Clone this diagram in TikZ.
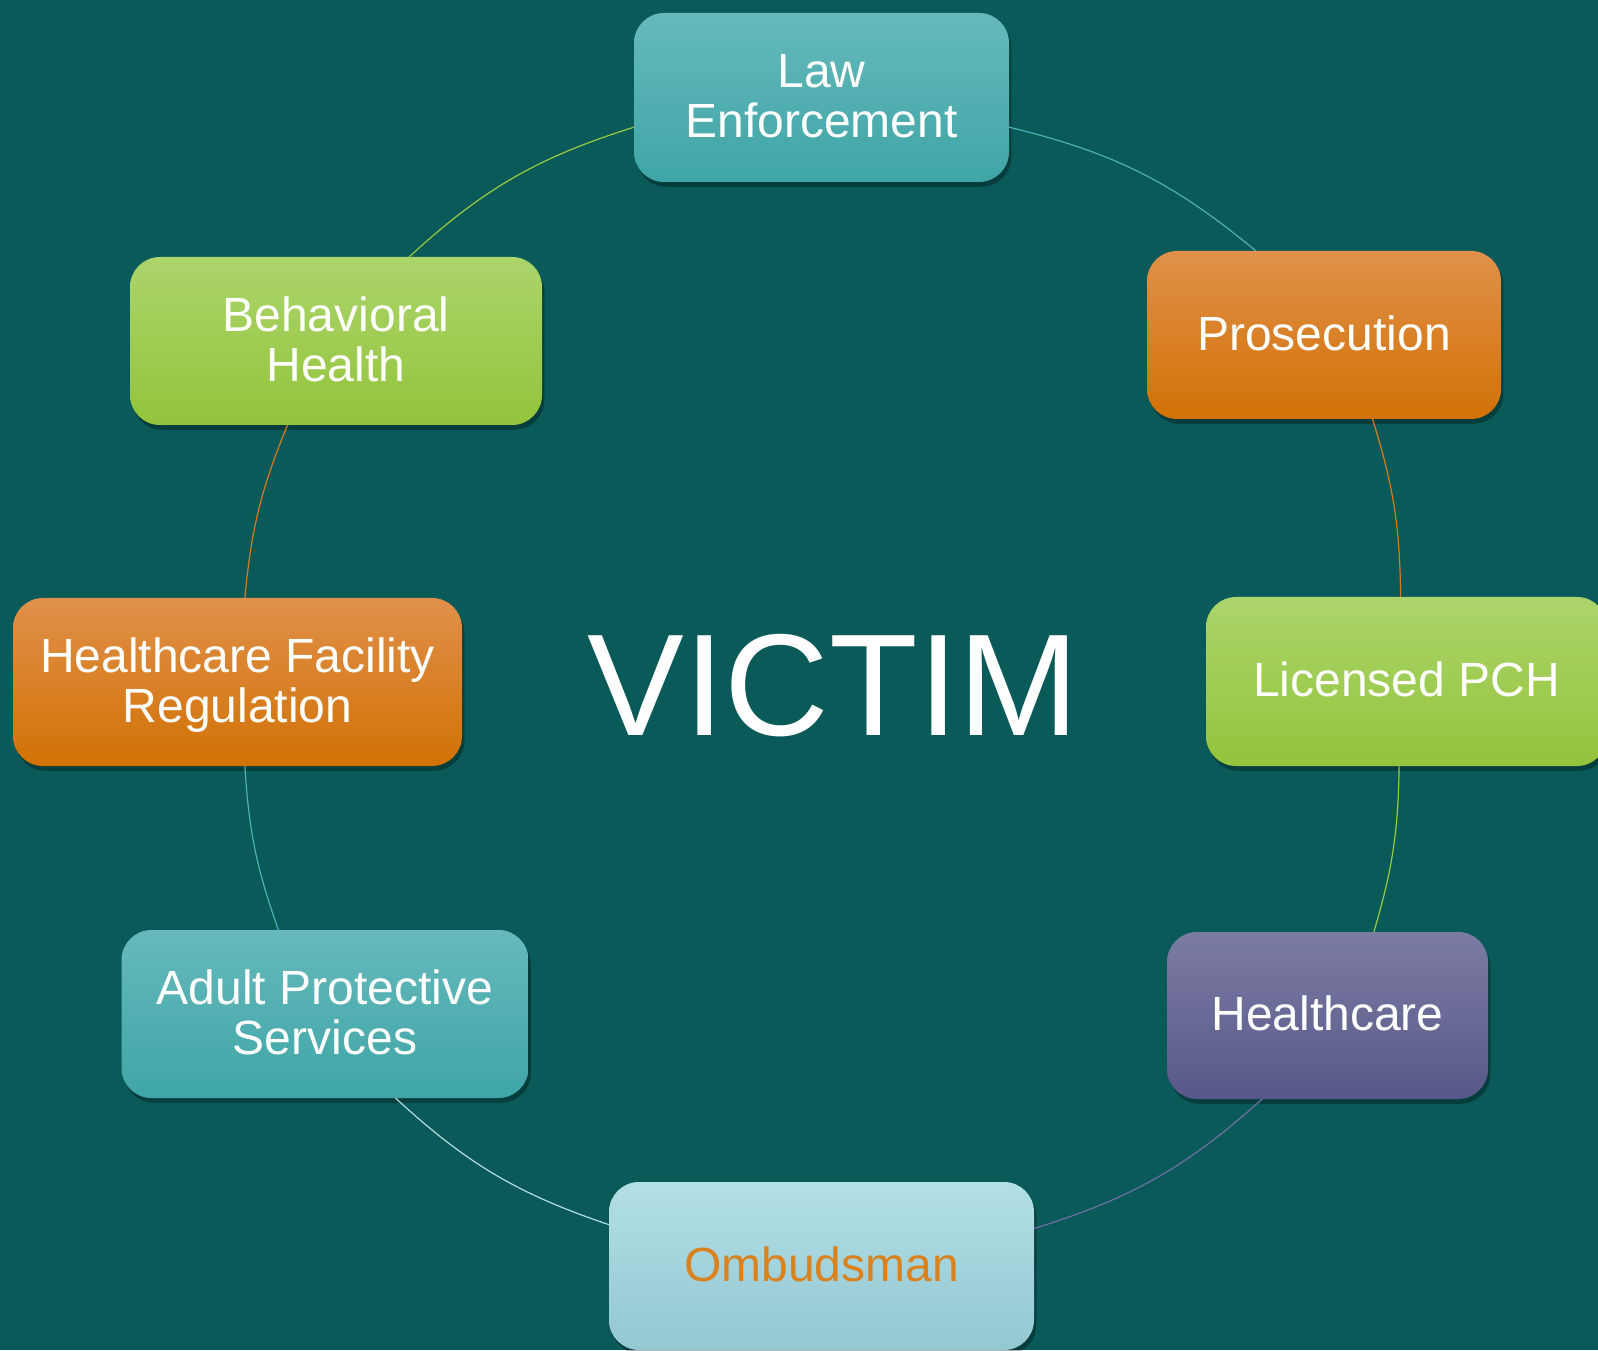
\documentclass[tikz,border=0pt]{standalone}
\usepackage{fontspec}
\setmainfont{Liberation Sans}
\usetikzlibrary{shadows}
\definecolor{bgc}{HTML}{0A5A5A}
\definecolor{tealT}{HTML}{66B9BB}\definecolor{tealB}{HTML}{3FA5A7}
\definecolor{oraT}{HTML}{E0904A}\definecolor{oraB}{HTML}{D27205}
\definecolor{grnT}{HTML}{ABD56B}\definecolor{grnB}{HTML}{93C43B}
\definecolor{purT}{HTML}{7B7CA4}\definecolor{purB}{HTML}{585888}
\definecolor{ltbT}{HTML}{B3DFE6}\definecolor{ltbB}{HTML}{93C7D2}
\definecolor{ombtxt}{HTML}{D9821E}
\definecolor{lnTeal}{HTML}{4DB0B3}
\definecolor{lnOra}{HTML}{D77A1A}
\definecolor{lnGrn}{HTML}{9BC93E}
\definecolor{lnPur}{HTML}{7070A0}
\definecolor{lnLtb}{HTML}{B0DDE4}
\tikzset{
  box/.style={rectangle, rounded corners=15pt, outer sep=0pt, inner sep=0pt,
    align=center, text=white, font=\fontsize{24}{25}\selectfont,
    text height=15.4pt, text depth=0pt,
    drop shadow={shadow xshift=1.2pt, shadow yshift=-2.4pt, opacity=0.3, fill=black}},
  two/.style={text height=40.4pt, text depth=0pt},
  tealbox/.style={box, top color=tealT, bottom color=tealB},
  orabox/.style={box, top color=oraT, bottom color=oraB},
  grnbox/.style={box, top color=grnT, bottom color=grnB},
  purbox/.style={box, top color=purT, bottom color=purB},
  ltbbox/.style={box, top color=ltbT, bottom color=ltbB, text=ombtxt},
  arcline/.style={line width=0.6pt}
}
\begin{document}
\begin{tikzpicture}[x=0.5pt,y=0.5pt]
\useasboundingbox (0,0) rectangle (1598,1350);
\clip (0,0) rectangle (1598,1350);
\fill[bgc] (0,0) rectangle (1598,1350);

\node[tealbox, two, minimum width=187.5pt, minimum height=84.5pt] (le) at (821.5,1252.5) {Law\\Enforcement};
\node[orabox, minimum width=177pt, minimum height=84pt] (pros) at (1324,1015) {Prosecution};
\node[grnbox, minimum width=200.5pt, minimum height=84.5pt] (pch) at (1406.5,668.5) {Licensed PCH};
\node[purbox, minimum width=160.5pt, minimum height=83.5pt] (hc) at (1327.5,334.5) {Healthcare};
\node[ltbbox, minimum width=212.5pt, minimum height=84pt] (omb) at (821.5,84) {Ombudsman};
\node[tealbox, two, minimum width=203.5pt, minimum height=84pt] (aps) at (325,336) {Adult Protective\\Services};
\node[orabox, two, minimum width=224.5pt, minimum height=84pt] (hfr) at (237.5,668) {Healthcare Facility\\Regulation};
\node[grnbox, two, minimum width=206pt, minimum height=84pt] (bh) at (336,1009) {Behavioral\\Health};

\node[text=white, font=\fontsize{72.5}{80}\selectfont, anchor=base] (victim) at (833.5,615) {VICTIM};

\draw[arcline, lnTeal] (le.-9.1) to[bend left=13] (pros.129.6);
\draw[arcline, lnOra] (pros.-60.3) to[bend left=8.4] (pch.94.3);
\draw[arcline, lnGrn] (pch.265.7) to[bend left=7.9] (hc.61.7);
\draw[arcline, lnPur] (hc.-128.4) to[bend left=12.3] (omb.10.5);
\draw[arcline, lnLtb] (omb.169.4) to[bend left=12] (aps.-50.9);
\draw[arcline, lnTeal] (aps.119.2) to[bend left=8] (hfr.-85.6);
\draw[arcline, lnOra] (hfr.85.7) to[bend left=8.5] (bh.-120.2);
\draw[arcline, lnGrn] (bh.49.6) to[bend left=12.5] (le.189.2);
\end{tikzpicture}
\end{document}
